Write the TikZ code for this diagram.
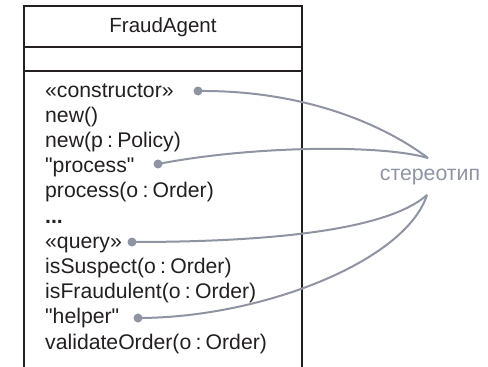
\documentclass[tikz,border=0pt]{standalone}
\usepackage{fontspec}
\setmainfont{Liberation Sans}
\definecolor{linegray}{HTML}{8E94A2}
\definecolor{ink}{HTML}{231F20}
\newcommand{\cs}{\hspace{0.2em}:\hspace{0.2em}}
\newcommand{\qq}{\textquotedbl}
\begin{document}
\begin{tikzpicture}[x=1pt,y=-1pt,
  boxline/.style={draw=ink, line width=2pt},
  member/.style={anchor=base west, inner sep=0pt, text=ink, font=\fontsize{21.2}{24}\selectfont},
  title/.style={inner sep=0pt, text=ink, font=\fontsize{20.5}{24}\selectfont},
  conn/.style={draw=linegray, line width=2pt},
  dotmark/.style={circle, fill=linegray, inner sep=0pt, minimum size=9pt},
  stlabel/.style={inner sep=0pt, text=linegray, font=\fontsize{21.3}{24}\selectfont}]
\useasboundingbox (0,0) rectangle (488,367);
% class box (open at the bottom)
\draw[boxline] (24,368) -- (24,6) -- (302,6) -- (302,368);
\draw[boxline] (24,47) -- (302,47);
\draw[boxline] (24,71) -- (302,71);
\node[title] (name) at (163,27) {FraudAgent};
% members
\def\rs{25.2}
\node[member] (m0) at (45,97) {«constructor»};
\node[member] (m1) at (45,97+\rs) {new()};
\node[member] (m2) at (45,97+2*\rs) {new(p\cs Policy)};
\node[member] (m3) at (45,97+3*\rs) {\qq process\qq};
\node[member] (m4) at (45,97+4*\rs) {process(o\cs Order)};
\node[member] (m5) at (45,97+5*\rs) {\textbf{...}};
\node[member] (m6) at (45,97+6*\rs) {«query»};
\node[member] (m7) at (45,97+7*\rs) {isSuspect(o\cs Order)};
\node[member] (m8) at (45,97+8*\rs) {isFraudulent(o\cs Order)};
\node[member] (m9) at (45,97+9*\rs) {\qq helper\qq};
\node[member] (m10) at (45,97+10*\rs) {validateOrder(o\cs Order)};
% stereotype label
\node[stlabel] (st) at (430,177) {стереотип};
\coordinate (stA) at (428,158);
\coordinate (stB) at (427,195);
% dots
\node[dotmark] (d1) at (198,91) {};
\node[dotmark] (d2) at (158,164) {};
\node[dotmark] (d3) at (132,242) {};
\node[dotmark] (d4) at (138,318) {};
% connectors
\draw[conn] (d1.center) .. controls (300,90) and (380,122) .. (stA);
\draw[conn] (d2.center) .. controls (250,146) and (380,144) .. (stA);
\draw[conn] (d3.center) .. controls (260,242) and (385,232) .. (stB);
\draw[conn] (d4.center) .. controls (260,318) and (405,262) .. (stB);
\end{tikzpicture}
\end{document}
